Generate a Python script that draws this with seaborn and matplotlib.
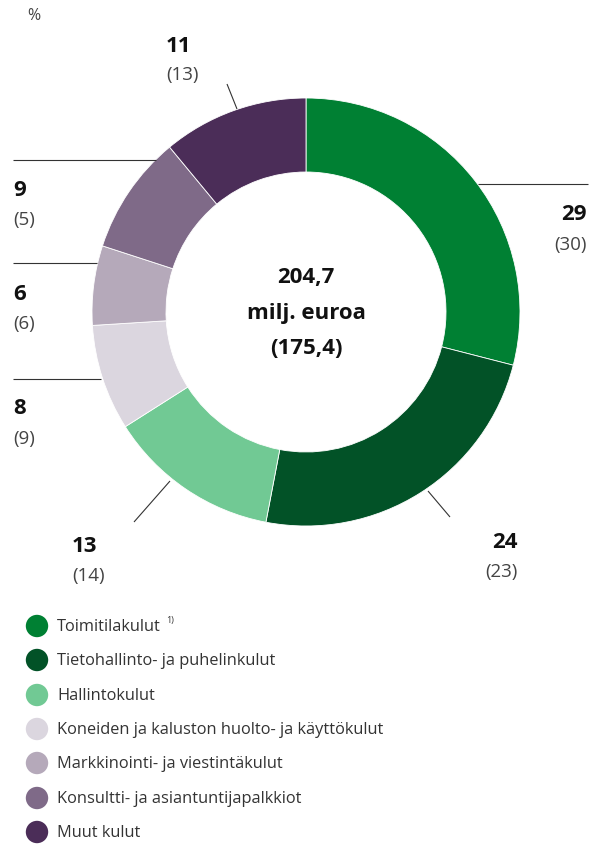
import matplotlib
matplotlib.use("Agg")
import matplotlib.pyplot as plt
import seaborn as sns
import pandas as pd

# ---- data ----
categories = [
    "Toimitilakulut",
    "Tietohallinto- ja puhelinkulut",
    "Hallintokulut",
    "Koneiden ja kaluston huolto- ja käyttökulut",
    "Markkinointi- ja viestintäkulut",
    "Konsultti- ja asiantuntijapalkkiot",
    "Muut kulut",
]
values = [29, 24, 13, 8, 6, 9, 11]
prev_values = [30, 23, 14, 9, 6, 5, 13]
center_lines = ["204,7", "milj. euroa", "(175,4)"]
unit_label = "%"
footnote_mark = "1)"

colors = ["#008033", "#025227", "#71c994", "#dbd6df", "#b5a9ba", "#7f6a88", "#4b2d58"]

df = pd.DataFrame({"category": categories, "value": values, "prev": prev_values})

sns.set_theme(style="white")
plt.rcParams['font.family'] = ['Open Sans', 'DejaVu Sans']

W, H = 611, 845
fig = plt.figure(figsize=(W / 100, H / 100), dpi=100)
ax = fig.add_axes([0, 0, 1, 1])


def Y(y):
    return H - y


cx, cy, R, ring = 306, 313, 214, 74
ax.pie(df["value"], colors=colors, startangle=90, counterclock=False,
       center=(cx, Y(cy)), radius=R,
       wedgeprops=dict(width=ring, edgecolor="white", linewidth=0.6))
ax.set_xlim(0, W)
ax.set_ylim(0, H)
ax.set_aspect("auto")
ax.axis("off")

# center text
for txt, yy in zip(center_lines, [278, 313, 349]):
    ax.text(cx, Y(yy), txt, ha="center", va="center", fontsize=16,
            fontweight="bold", color="#111111")

# leader lines (pixel layout)
leaders = [
    [(478, 185), (588, 185)],
    [(428, 492), (450, 518)],
    [(170, 482), (134, 523)],
    [(13, 380), (101, 380)],
    [(13, 264), (97, 264)],
    [(13, 161), (156, 161)],
    [(227, 85), (237, 110)],
]
for (x0, y0), (x1, y1) in leaders:
    ax.plot([x0, x1], [Y(y0), Y(y1)], color="#333333", lw=0.8,
            solid_capstyle="butt")

# value labels layout: (x, y_value, y_prev, ha)
label_pos = [
    (587, 215, 245, "right"),
    (518, 542, 572, "right"),
    (72, 546, 576, "left"),
    (13, 409, 439, "left"),
    (13, 295, 324, "left"),
    (13, 191, 220, "left"),
    (166, 46, 75, "left"),
]
for v, p, (x, yv, yp, ha) in zip(df["value"], df["prev"], label_pos):
    ax.text(x, Y(yv), f"{v}", ha=ha, va="center", fontsize=16,
            fontweight="bold", color="#111111")
    ax.text(x, Y(yp), f"({p})", ha=ha, va="center", fontsize=13.5,
            fontweight="normal", color="#444444")

ax.text(27, Y(16), unit_label, ha="left", va="center", fontsize=11.5,
        color="#444444")

# legend
leg_y = [627, 661, 696, 730, 764, 799, 833]
leg_df = pd.DataFrame({"x": [37] * len(categories),
                       "y": [Y(v) for v in leg_y],
                       "category": categories})
sns.scatterplot(data=leg_df, x="x", y="y", hue="category",
                palette=dict(zip(categories, colors)), s=260,
                linewidth=0, legend=False, ax=ax, clip_on=False)
ax.set_xlim(0, W)
ax.set_ylim(0, H)
ax.axis("off")

legend_texts = []
for cat, yy in zip(categories, leg_y):
    t = ax.text(57, Y(yy), cat, ha="left", va="center", fontsize=11.8,
                color="#333333")
    legend_texts.append(t)

fig.canvas.draw()
bb = legend_texts[0].get_window_extent()
ax.text(bb.x1 + 5, Y(leg_y[0]) + 6, footnote_mark, ha="left", va="center",
        fontsize=6.5, color="#333333")

fig.savefig("out.png", dpi=100)
